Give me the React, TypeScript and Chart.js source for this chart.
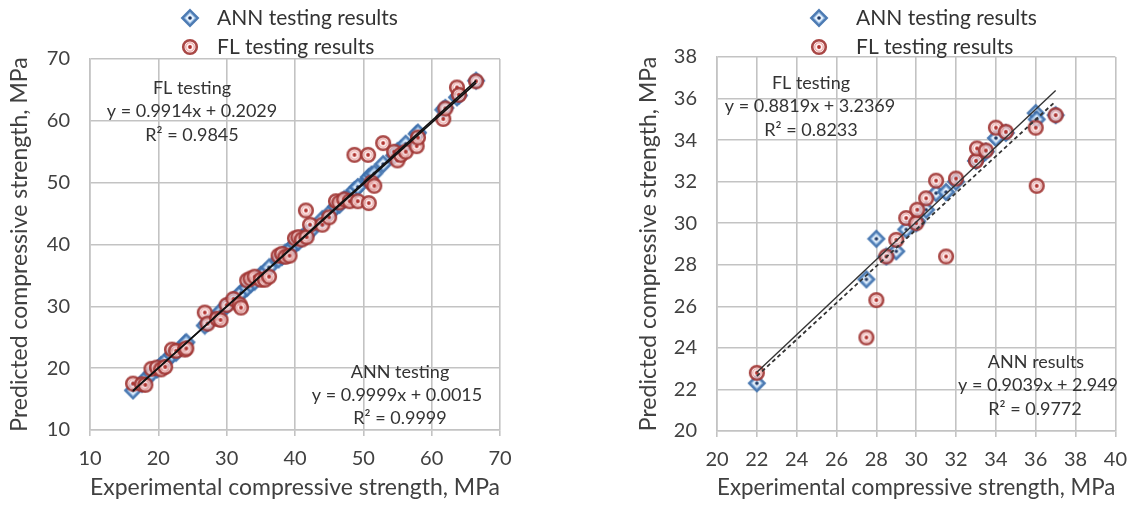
import React, { useEffect, useRef } from "react";
import { Chart, registerables } from "chart.js";

Chart.register(...registerables);

const FONT_FAMILY = "Lato, 'Open Sans', 'DejaVu Sans', sans-serif";

// ---------- Left chart: all testing data ----------
const leftExperimental = [16.3, 17.6, 18.1, 19.0, 19.8, 20.4, 21.0, 22.0, 22.6, 23.9, 24.1, 26.8, 27.2, 28.6, 29.1, 30.0, 31.0, 31.9, 32.1, 33.0, 33.5, 34.1, 35.0, 35.6, 36.2, 37.6, 38.1, 38.6, 39.2, 40.0, 40.5, 41.0, 41.6, 41.7, 42.2, 44.0, 45.0, 46.0, 46.5, 47.2, 48.0, 48.7, 49.2, 50.7, 50.8, 51.2, 51.6, 52.9, 54.5, 55.0, 55.5, 56.2, 57.8, 58.0, 61.7, 62.0, 63.7, 64.0, 66.5];
const leftAnnPredicted = [16.4, 17.5, 18.2, 19.1, 19.8, 20.5, 21.1, 22.1, 22.5, 24.0, 24.2, 26.9, 27.3, 28.5, 29.2, 30.1, 31.0, 31.9, 32.2, 33.0, 33.6, 34.0, 35.1, 35.5, 36.3, 37.6, 38.0, 38.7, 39.1, 40.1, 40.4, 41.1, 41.5, 41.8, 42.1, 44.1, 45.0, 46.1, 46.4, 47.3, 47.9, 48.8, 49.3, 50.6, 50.9, 51.3, 51.5, 53.0, 54.4, 55.1, 55.4, 56.3, 57.9, 58.1, 61.8, 62.1, 63.8, 64.1, 66.5];
const leftFlPredicted = [17.5, 17.4, 17.3, 19.9, 20.1, 19.8, 20.2, 23.0, 22.8, 23.0, 23.2, 29.0, 27.2, 28.0, 27.8, 30.2, 31.2, 30.3, 29.8, 34.2, 34.5, 34.8, 34.3, 34.3, 34.8, 38.2, 38.5, 38.0, 38.2, 41.0, 41.2, 40.8, 45.5, 41.2, 43.2, 43.2, 44.4, 47.0, 46.8, 47.3, 47.0, 54.5, 47.0, 54.5, 46.7, 50.0, 49.5, 56.4, 55.0, 53.6, 54.5, 55.0, 55.9, 57.3, 60.3, 62.0, 65.4, 64.2, 66.4];
const leftXTicks = [10, 20, 30, 40, 50, 60, 70];
const leftYTicks = [10, 20, 30, 40, 50, 60, 70];
const leftAnnTrendX = [16.3, 66.5];
const leftAnnTrendY = [16.3, 66.5];
const leftFlTrendX = [16.3, 66.5];
const leftFlTrendY = [16.36, 66.13];

// ---------- Right chart ----------
const rightExperimental = [22, 27.5, 28, 28.5, 29, 29.5, 30, 30.05, 30.5, 31, 31.5, 32, 33, 33.05, 33.5, 34, 34.5, 36, 36.05, 37];
const rightAnnPredicted = [22.3, 27.3, 29.25, 28.4, 28.65, 29.7, 30.0, 30.1, 30.65, 31.45, 31.5, 32.0, 33.0, 33.05, 33.45, 34.1, 34.35, 35.3, 35.0, 35.2];
const rightFlPredicted = [22.8, 24.5, 26.3, 28.4, 29.2, 30.25, 30.0, 30.65, 31.2, 32.05, 28.4, 32.15, 33.0, 33.6, 33.5, 34.6, 34.4, 34.6, 31.8, 35.2];
const rightXTicks = [20, 22, 24, 26, 28, 30, 32, 34, 36, 38, 40];
const rightYTicks = [20, 22, 24, 26, 28, 30, 32, 34, 36, 38];
const rightAnnTrendX = [22, 37];
const rightAnnTrendY = [22.83, 36.39];
const rightFlTrendX = [22, 37];
const rightFlTrendY = [22.64, 35.87];

const legendLabels = ["ANN testing results", "FL testing results"];
const xTitle = "Experimental compressive strength, MPa";
const yTitle = "Predicted compressive strength, MPa";

function pts(xs: number[], ys: number[]) {
  return xs.map((x, i) => ({ x, y: ys[i] }));
}

function makeAnnMarker(): HTMLCanvasElement {
  const c = document.createElement("canvas");
  c.width = 20;
  c.height = 20;
  const g = c.getContext("2d")!;
  const cx = 10, cy = 10, r = 7.6;
  const diamond = (rr: number) => {
    g.beginPath();
    g.moveTo(cx, cy - rr);
    g.lineTo(cx + rr, cy);
    g.lineTo(cx, cy + rr);
    g.lineTo(cx - rr, cy);
    g.closePath();
  };
  diamond(r);
  g.fillStyle = "rgba(220,235,250,0.78)";
  g.fill();
  g.lineWidth = 2.6;
  g.strokeStyle = "rgba(62,112,172,0.92)";
  g.stroke();
  diamond(r - 2.4);
  g.lineWidth = 1;
  g.strokeStyle = "rgba(140,185,230,0.85)";
  g.stroke();
  g.beginPath();
  g.arc(cx, cy, 1.8, 0, Math.PI * 2);
  g.fillStyle = "#1f3864";
  g.fill();
  return c;
}

function makeFlMarker(): HTMLCanvasElement {
  const c = document.createElement("canvas");
  c.width = 20;
  c.height = 20;
  const g = c.getContext("2d")!;
  const cx = 10, cy = 10;
  g.beginPath();
  g.arc(cx, cy, 6.8, 0, Math.PI * 2);
  g.fillStyle = "rgba(255,236,236,0.72)";
  g.fill();
  g.lineWidth = 2.6;
  g.strokeStyle = "rgba(160,52,50,0.9)";
  g.stroke();
  g.beginPath();
  g.arc(cx, cy, 4.2, 0, Math.PI * 2);
  g.lineWidth = 1;
  g.strokeStyle = "rgba(225,140,138,0.85)";
  g.stroke();
  g.beginPath();
  g.arc(cx, cy, 1.9, 0, Math.PI * 2);
  g.fillStyle = "#b0332f";
  g.fill();
  return c;
}

type TextItem = { text: string; x: number; y: number };
type LegendItem = { marker: HTMLCanvasElement; mx: number; my: number; text: string; tx: number };

function overlayPlugin(id: string, texts: TextItem[], legend: LegendItem[]) {
  return {
    id,
    afterDraw(chart: any) {
      const ctx = chart.ctx as CanvasRenderingContext2D;
      ctx.save();
      ctx.textBaseline = "middle";
      ctx.fillStyle = "#333333";
      ctx.font = `21px ${FONT_FAMILY}`;
      ctx.textAlign = "left";
      for (const l of legend) {
        ctx.drawImage(l.marker, l.mx - l.marker.width / 2, l.my - l.marker.height / 2);
        ctx.fillText(l.text, l.tx, l.my);
      }
      ctx.font = `18px ${FONT_FAMILY}`;
      ctx.textAlign = "center";
      for (const t of texts) ctx.fillText(t.text, t.x, t.y);
      ctx.restore();
    },
  };
}

type PanelSpec = {
  experimental: number[];
  ann: number[];
  fl: number[];
  xTicks: number[];
  yTicks: number[];
  annTrend: { x: number; y: number }[];
  flTrend: { x: number; y: number }[];
  annTrendDash: number[];
  flTrendDash: number[];
  trendColor: string;
  padding: { left: number; top: number; right: number; bottom: number };
  yAxisWidth: number;
  xAxisHeight: number;
  texts: TextItem[];
  legendX: number;
  legendTextX: number;
};

function buildConfig(spec: PanelSpec, annMarker: HTMLCanvasElement, flMarker: HTMLCanvasElement): any {
  const gridColor = "#c3c3c3";
  const tickFont = { family: FONT_FAMILY, size: 20 };
  const titleFont = { family: FONT_FAMILY, size: 23 };
  return {
    type: "scatter",
    data: {
      datasets: [
        {
          type: "line",
          label: "ANN trend",
          data: spec.annTrend,
          borderColor: spec.trendColor,
          borderWidth: 1.4,
          borderDash: spec.annTrendDash,
          pointRadius: 0,
          showLine: true,
          fill: false,
          order: 0,
        },
        {
          type: "line",
          label: "FL trend",
          data: spec.flTrend,
          borderColor: spec.trendColor,
          borderWidth: 1.8,
          borderDash: spec.flTrendDash,
          pointRadius: 0,
          showLine: true,
          fill: false,
          order: 1,
        },
        {
          label: legendLabels[1],
          data: pts(spec.experimental, spec.fl),
          pointStyle: flMarker,
          pointRadius: 7,
          order: 2,
        },
        {
          label: legendLabels[0],
          data: pts(spec.experimental, spec.ann),
          pointStyle: annMarker,
          pointRadius: 7,
          order: 3,
        },
      ],
    },
    options: {
      animation: false,
      responsive: false,
      devicePixelRatio: 1,
      layout: { padding: spec.padding },
      plugins: { legend: { display: false }, tooltip: { enabled: false } },
      events: [],
      scales: {
        x: {
          type: "linear",
          min: spec.xTicks[0],
          max: spec.xTicks[spec.xTicks.length - 1],
          afterBuildTicks: (s: any) => {
            s.ticks = spec.xTicks.map((v) => ({ value: v }));
          },
          afterFit: (s: any) => {
            s.height = spec.xAxisHeight;
          },
          grid: { color: gridColor, lineWidth: 1.6, drawTicks: true, tickLength: 6, tickColor: gridColor },
          border: { color: gridColor, width: 1.6 },
          ticks: { font: tickFont, color: "#404040", padding: 11, maxRotation: 0, autoSkip: false },
          title: { display: true, text: xTitle, font: titleFont, color: "#404040", padding: { top: 0, bottom: 4 } },
        },
        y: {
          type: "linear",
          min: spec.yTicks[0],
          max: spec.yTicks[spec.yTicks.length - 1],
          afterBuildTicks: (s: any) => {
            s.ticks = spec.yTicks.map((v) => ({ value: v }));
          },
          afterFit: (s: any) => {
            s.width = spec.yAxisWidth;
          },
          grid: { color: gridColor, lineWidth: 1.6, drawTicks: false },
          border: { color: gridColor, width: 1.6 },
          ticks: { font: tickFont, color: "#404040", padding: 20, autoSkip: false },
          title: { display: true, text: yTitle, font: titleFont, color: "#404040", padding: { top: 6, bottom: 0 } },
        },
      },
    },
    plugins: [
      overlayPlugin("overlay", spec.texts, [
        { marker: annMarker, mx: spec.legendX, my: 18, text: legendLabels[0], tx: spec.legendTextX },
        { marker: flMarker, mx: spec.legendX, my: 47, text: legendLabels[1], tx: spec.legendTextX },
      ]),
    ],
  };
}

const leftSpec: PanelSpec = {
  experimental: leftExperimental,
  ann: leftAnnPredicted,
  fl: leftFlPredicted,
  xTicks: leftXTicks,
  yTicks: leftYTicks,
  annTrend: pts(leftAnnTrendX, leftAnnTrendY),
  flTrend: pts(leftFlTrendX, leftFlTrendY),
  annTrendDash: [],
  flTrendDash: [],
  trendColor: "#111111",
  padding: { left: 0, top: 59, right: 69, bottom: 0 },
  yAxisWidth: 90,
  xAxisHeight: 75,
  texts: [
    { text: "FL testing", x: 192, y: 88 },
    { text: "y = 0.9914x + 0.2029", x: 192, y: 111 },
    { text: "R² = 0.9845", x: 192, y: 135 },
    { text: "ANN testing", x: 400, y: 372 },
    { text: "y = 0.9999x + 0.0015", x: 397, y: 395 },
    { text: "R² = 0.9999", x: 400, y: 418 },
  ],
  legendX: 190,
  legendTextX: 217,
};

const rightSpec: PanelSpec = {
  experimental: rightExperimental,
  ann: rightAnnPredicted,
  fl: rightFlPredicted,
  xTicks: rightXTicks,
  yTicks: rightYTicks,
  annTrend: pts(rightAnnTrendX, rightAnnTrendY),
  flTrend: pts(rightFlTrendX, rightFlTrendY),
  annTrendDash: [],
  flTrendDash: [4, 3],
  trendColor: "#333333",
  padding: { left: 60, top: 57, right: 11, bottom: 0 },
  yAxisWidth: 88,
  xAxisHeight: 74,
  texts: [
    { text: "FL testing", x: 242, y: 83 },
    { text: "y = 0.8819x + 3.2369", x: 241, y: 106 },
    { text: "R² = 0.8233", x: 242, y: 130 },
    { text: "ANN results", x: 467, y: 362 },
    { text: "y = 0.9039x + 2.949", x: 469, y: 385 },
    { text: "R² = 0.9772", x: 466, y: 409 },
  ],
  legendX: 250,
  legendTextX: 287,
};

function Panel({ spec, left }: { spec: PanelSpec; left: number }) {
  const ref = useRef<HTMLCanvasElement>(null);
  useEffect(() => {
    const annMarker = makeAnnMarker();
    const flMarker = makeFlMarker();
    const chart = new Chart(ref.current!, buildConfig(spec, annMarker, flMarker));
    return () => chart.destroy();
  }, [spec]);
  return (
    <canvas
      ref={ref}
      width={569}
      height={505}
      style={{ position: "absolute", left, top: 0, width: 569, height: 505, display: "block" }}
    />
  );
}

export default function App() {
  return (
    <div style={{ position: "absolute", left: 0, top: 0, width: 1138, height: 505, background: "#ffffff", overflow: "hidden" }}>
      <Panel spec={leftSpec} left={0} />
      <Panel spec={rightSpec} left={569} />
    </div>
  );
}
